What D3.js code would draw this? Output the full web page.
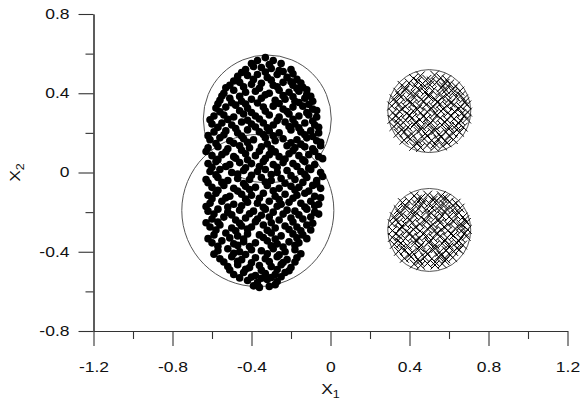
<!DOCTYPE html>
<html>
<head>
<meta charset="utf-8">
<script src="https://cdn.jsdelivr.net/npm/d3@7"></script>
<style>
  body { margin: 0; background: #fff; }
  text {
    font-family: "Liberation Sans", Arial, sans-serif;
    transform-box: fill-box;
    transform: scaleX(1.25);
    transform-origin: center;
  }
  .y-axis text { transform-origin: right center; }
</style>
</head>
<body>
<div id="chart"></div>
<script>
const width = 584;
const height = 406;

const xMajorTicks = [-1.2, -0.8, -0.4, 0, 0.4, 0.8, 1.2];
const xMinorTicks = [-1.0, -0.6, -0.2, 0.2, 0.6, 1.0];
const yMajorTicks = [-0.8, -0.4, 0, 0.4, 0.8];
const yMinorTicks = [-0.6, -0.2, 0.2, 0.6];

// boundary circles: [cx, cy, r]
const dotCircles = [[-0.32, 0.27, 0.324], [-0.368, -0.192, 0.385]];
const crossCircles = [[0.50, 0.31, 0.21], [0.50, -0.29, 0.21]];

// class 1 samples (filled dots)
const dotPoints = [
  [-0.37,0.565],[-0.33,0.58],[-0.29,0.565],[-0.25,0.55],
  [-0.43,0.52],[-0.39,0.535],[-0.35,0.53],[-0.30,0.525],[-0.24,0.51],[-0.20,0.52],
  [-0.47,0.485],[-0.42,0.49],[-0.37,0.495],[-0.32,0.48],[-0.27,0.495],[-0.22,0.48],[-0.17,0.47],
  [-0.51,0.44],[-0.46,0.455],[-0.40,0.445],[-0.35,0.45],[-0.29,0.44],[-0.24,0.455],[-0.19,0.44],[-0.14,0.43],
  [-0.54,0.40],[-0.49,0.415],[-0.43,0.405],[-0.38,0.41],[-0.31,0.40],[-0.26,0.415],[-0.21,0.405],[-0.16,0.41],[-0.12,0.395],
  [-0.56,0.365],[-0.51,0.375],[-0.45,0.36],[-0.40,0.37],[-0.35,0.375],[-0.28,0.365],[-0.23,0.37],[-0.18,0.36],[-0.13,0.375],[-0.09,0.36],
  [-0.58,0.325],[-0.53,0.33],[-0.48,0.34],[-0.42,0.325],[-0.34,0.33],[-0.29,0.335],[-0.24,0.32],[-0.19,0.33],[-0.14,0.335],[-0.09,0.32],
  [-0.59,0.285],[-0.54,0.29],[-0.49,0.28],[-0.44,0.295],[-0.38,0.285],[-0.31,0.29],[-0.26,0.28],[-0.21,0.295],[-0.16,0.285],[-0.11,0.29],[-0.07,0.28],
  [-0.60,0.245],[-0.55,0.25],[-0.50,0.24],[-0.45,0.255],[-0.40,0.245],[-0.34,0.25],[-0.29,0.24],[-0.23,0.255],[-0.18,0.245],[-0.13,0.25],[-0.08,0.24],
  [-0.59,0.205],[-0.53,0.21],[-0.47,0.20],[-0.42,0.215],[-0.36,0.205],[-0.31,0.21],[-0.26,0.20],[-0.20,0.215],[-0.15,0.205],[-0.10,0.21],[-0.06,0.20],
  [-0.61,0.165],[-0.56,0.175],[-0.51,0.16],[-0.44,0.17],[-0.39,0.165],[-0.33,0.175],[-0.28,0.16],[-0.24,0.17],[-0.17,0.165],[-0.12,0.175],[-0.07,0.16],
  [-0.62,0.125],[-0.57,0.13],[-0.52,0.12],[-0.46,0.135],[-0.41,0.125],[-0.35,0.13],[-0.30,0.12],[-0.22,0.135],[-0.18,0.125],[-0.13,0.13],[-0.09,0.12],[-0.05,0.135],
  [-0.60,0.085],[-0.55,0.09],[-0.49,0.08],[-0.43,0.095],[-0.38,0.085],[-0.31,0.09],[-0.26,0.08],[-0.21,0.095],[-0.16,0.085],[-0.11,0.09],[-0.06,0.08],
  [-0.62,0.045],[-0.58,0.055],[-0.51,0.04],[-0.46,0.05],[-0.40,0.045],[-0.34,0.055],[-0.29,0.04],[-0.24,0.05],[-0.19,0.045],[-0.13,0.055],[-0.08,0.04],
  [-0.61,0.005],[-0.56,0.015],[-0.50,0.0],[-0.44,0.01],[-0.37,0.005],[-0.33,0.015],[-0.27,0.0],[-0.22,0.01],[-0.15,0.005],[-0.10,0.015],[-0.05,0.0],
  [-0.63,-0.035],[-0.57,-0.025],[-0.52,-0.04],[-0.47,-0.03],[-0.41,-0.035],[-0.35,-0.025],[-0.30,-0.04],[-0.25,-0.03],[-0.18,-0.035],[-0.12,-0.025],[-0.07,-0.04],
  [-0.60,-0.075],[-0.54,-0.065],[-0.49,-0.08],[-0.43,-0.07],[-0.38,-0.075],[-0.32,-0.065],[-0.26,-0.08],[-0.20,-0.07],[-0.16,-0.075],[-0.09,-0.065],[-0.05,-0.08],
  [-0.62,-0.115],[-0.58,-0.105],[-0.51,-0.12],[-0.45,-0.11],[-0.40,-0.115],[-0.34,-0.105],[-0.28,-0.12],[-0.23,-0.11],[-0.17,-0.115],[-0.13,-0.105],[-0.08,-0.12],
  [-0.61,-0.155],[-0.55,-0.145],[-0.49,-0.16],[-0.42,-0.15],[-0.37,-0.155],[-0.31,-0.145],[-0.25,-0.16],[-0.21,-0.15],[-0.15,-0.155],[-0.10,-0.145],[-0.06,-0.16],
  [-0.62,-0.195],[-0.57,-0.185],[-0.52,-0.20],[-0.46,-0.19],[-0.39,-0.195],[-0.33,-0.185],[-0.29,-0.20],[-0.22,-0.19],[-0.18,-0.195],[-0.12,-0.185],[-0.08,-0.20],
  [-0.60,-0.235],[-0.54,-0.225],[-0.48,-0.24],[-0.43,-0.23],[-0.37,-0.235],[-0.31,-0.225],[-0.26,-0.24],[-0.20,-0.23],[-0.14,-0.235],[-0.10,-0.225],
  [-0.61,-0.275],[-0.56,-0.265],[-0.50,-0.28],[-0.45,-0.27],[-0.40,-0.275],[-0.34,-0.265],[-0.28,-0.28],[-0.23,-0.27],[-0.17,-0.275],[-0.12,-0.265],
  [-0.59,-0.315],[-0.53,-0.305],[-0.47,-0.32],[-0.42,-0.31],[-0.36,-0.315],[-0.30,-0.305],[-0.25,-0.32],[-0.19,-0.31],[-0.14,-0.315],
  [-0.60,-0.355],[-0.55,-0.345],[-0.49,-0.36],[-0.44,-0.35],[-0.38,-0.355],[-0.32,-0.345],[-0.27,-0.36],[-0.21,-0.35],[-0.16,-0.355],
  [-0.57,-0.395],[-0.52,-0.385],[-0.46,-0.40],[-0.40,-0.39],[-0.35,-0.395],[-0.29,-0.385],[-0.23,-0.40],[-0.18,-0.39],
  [-0.56,-0.435],[-0.50,-0.425],[-0.45,-0.44],[-0.38,-0.43],[-0.33,-0.435],[-0.27,-0.425],[-0.22,-0.44],[-0.17,-0.43],
  [-0.52,-0.475],[-0.47,-0.465],[-0.41,-0.48],[-0.36,-0.47],[-0.30,-0.475],[-0.25,-0.465],[-0.20,-0.48],
  [-0.49,-0.515],[-0.44,-0.505],[-0.38,-0.52],[-0.33,-0.51],[-0.28,-0.515],[-0.23,-0.505],
  [-0.42,-0.545],[-0.37,-0.555],[-0.32,-0.54],[-0.27,-0.55],
  [-0.36,-0.58],[-0.31,-0.575]
];

// more class 1 samples lying between the ones above
const dotPointsExtra = [
  [-0.31,0.545],[-0.40,0.55],
  [-0.45,0.505],[-0.33,0.507],[-0.26,0.515],[-0.19,0.498],
  [-0.49,0.462],[-0.39,0.47],[-0.30,0.466],[-0.20,0.458],[-0.15,0.452],
  [-0.53,0.428],[-0.44,0.432],[-0.36,0.425],[-0.27,0.433],[-0.17,0.424],[-0.12,0.418],
  [-0.55,0.386],[-0.46,0.384],[-0.33,0.392],[-0.24,0.388],[-0.19,0.382],[-0.10,0.384],
  [-0.57,0.347],[-0.50,0.352],[-0.43,0.346],[-0.37,0.351],[-0.26,0.348],[-0.16,0.353],[-0.11,0.344],
  [-0.56,0.306],[-0.46,0.312],[-0.40,0.303],[-0.33,0.31],[-0.22,0.308],[-0.12,0.302],[-0.07,0.313],
  [-0.61,0.266],[-0.52,0.268],[-0.42,0.264],[-0.36,0.27],[-0.27,0.262],[-0.19,0.268],[-0.09,0.26],
  [-0.57,0.228],[-0.48,0.222],[-0.38,0.23],[-0.32,0.226],[-0.21,0.232],[-0.16,0.225],[-0.06,0.228],
  [-0.62,0.186],[-0.54,0.19],[-0.45,0.184],[-0.34,0.192],[-0.29,0.185],[-0.13,0.19],[-0.09,0.182],
  [-0.58,0.146],[-0.49,0.148],[-0.42,0.152],[-0.32,0.144],[-0.20,0.15],[-0.15,0.143],[-0.05,0.152],
  [-0.63,0.106],[-0.53,0.104],[-0.45,0.112],[-0.36,0.108],[-0.28,0.104],[-0.19,0.11],[-0.08,0.106],
  [-0.57,0.066],[-0.48,0.072],[-0.42,0.064],[-0.33,0.07],[-0.23,0.068],[-0.14,0.064],[-0.04,0.07],
  [-0.60,0.026],[-0.53,0.03],[-0.43,0.024],[-0.36,0.03],[-0.27,0.026],[-0.17,0.03],[-0.11,0.022],
  [-0.58,-0.012],[-0.47,-0.008],[-0.40,-0.014],[-0.30,-0.01],[-0.20,-0.016],[-0.13,-0.01],[-0.04,-0.02],
  [-0.62,-0.052],[-0.55,-0.05],[-0.44,-0.056],[-0.33,-0.048],[-0.23,-0.054],[-0.14,-0.05],[-0.07,-0.058],
  [-0.57,-0.09],[-0.47,-0.094],[-0.41,-0.086],[-0.29,-0.092],[-0.18,-0.088],[-0.11,-0.094],
  [-0.60,-0.132],[-0.53,-0.128],[-0.43,-0.134],[-0.36,-0.13],[-0.26,-0.136],[-0.19,-0.13],[-0.05,-0.128],
  [-0.63,-0.172],[-0.52,-0.174],[-0.45,-0.168],[-0.34,-0.176],[-0.27,-0.17],[-0.13,-0.174],[-0.08,-0.168],
  [-0.59,-0.21],[-0.50,-0.214],[-0.41,-0.208],[-0.35,-0.216],[-0.24,-0.21],[-0.16,-0.214],[-0.06,-0.21],
  [-0.63,-0.254],[-0.57,-0.25],[-0.46,-0.256],[-0.38,-0.248],[-0.30,-0.254],[-0.19,-0.25],[-0.09,-0.256],
  [-0.58,-0.29],[-0.48,-0.294],[-0.42,-0.286],[-0.32,-0.292],[-0.21,-0.288],[-0.15,-0.294],[-0.10,-0.29],
  [-0.62,-0.334],[-0.51,-0.33],[-0.44,-0.336],[-0.34,-0.328],[-0.28,-0.336],[-0.17,-0.33],[-0.12,-0.334],
  [-0.57,-0.372],[-0.47,-0.368],[-0.41,-0.374],[-0.30,-0.37],[-0.24,-0.376],[-0.18,-0.368],
  [-0.59,-0.412],[-0.49,-0.408],[-0.43,-0.414],[-0.32,-0.41],[-0.26,-0.416],[-0.15,-0.41],
  [-0.54,-0.452],[-0.47,-0.448],[-0.40,-0.456],[-0.31,-0.45],[-0.24,-0.454],[-0.18,-0.452],
  [-0.51,-0.492],[-0.43,-0.488],[-0.35,-0.494],[-0.27,-0.49],[-0.21,-0.496],
  [-0.46,-0.532],[-0.40,-0.528],[-0.35,-0.534],[-0.30,-0.53],[-0.25,-0.526],
  [-0.39,-0.572],[-0.28,-0.566]
];

// class 2 samples (crosses), upper cluster
const crossPointsUpper = [
  [0.42,0.475],[0.455,0.488],[0.488,0.47],[0.527,0.492],[0.558,0.478],[0.588,0.468],
  [0.362,0.44],[0.398,0.452],[0.43,0.438],[0.466,0.449],[0.503,0.442],[0.538,0.455],[0.571,0.437],[0.604,0.447],[0.633,0.436],
  [0.341,0.405],[0.377,0.415],[0.409,0.402],[0.447,0.418],[0.479,0.406],[0.516,0.413],[0.552,0.401],[0.584,0.416],[0.622,0.404],[0.655,0.411],
  [0.322,0.372],[0.356,0.381],[0.391,0.368],[0.424,0.378],[0.461,0.37],[0.497,0.383],[0.531,0.369],[0.566,0.377],[0.598,0.366],[0.636,0.38],[0.673,0.371],
  [0.31,0.336],[0.347,0.344],[0.379,0.333],[0.416,0.347],[0.451,0.335],[0.484,0.342],[0.521,0.331],[0.556,0.346],[0.589,0.337],[0.626,0.343],[0.659,0.332],[0.69,0.341],
  [0.316,0.302],[0.349,0.309],[0.386,0.298],[0.419,0.311],[0.456,0.301],[0.489,0.307],[0.526,0.296],[0.559,0.31],[0.596,0.302],[0.628,0.308],[0.664,0.297],[0.694,0.305],
  [0.311,0.268],[0.346,0.274],[0.381,0.263],[0.414,0.276],[0.452,0.266],[0.486,0.272],[0.519,0.262],[0.556,0.275],[0.589,0.267],[0.626,0.271],[0.658,0.262],[0.689,0.27],
  [0.321,0.232],[0.354,0.239],[0.392,0.229],[0.424,0.241],[0.461,0.231],[0.494,0.238],[0.531,0.227],[0.564,0.24],[0.601,0.232],[0.634,0.236],[0.672,0.229],
  [0.342,0.198],[0.374,0.205],[0.411,0.194],[0.444,0.207],[0.481,0.197],[0.514,0.203],[0.551,0.193],[0.584,0.206],[0.621,0.198],[0.654,0.203],
  [0.372,0.163],[0.404,0.17],[0.441,0.16],[0.474,0.171],[0.511,0.162],[0.544,0.168],[0.581,0.159],[0.622,0.166],
  [0.421,0.132],[0.456,0.126],[0.489,0.136],[0.526,0.128],[0.568,0.134],
  [0.44,0.46],[0.51,0.462],[0.58,0.45],[0.38,0.425],[0.47,0.43],[0.56,0.428],[0.62,0.42],
  [0.35,0.39],[0.43,0.395],[0.50,0.39],[0.59,0.392],[0.66,0.388],
  [0.33,0.355],[0.40,0.352],[0.47,0.36],[0.54,0.356],[0.61,0.35],[0.68,0.356],
  [0.36,0.32],[0.44,0.318],[0.51,0.325],[0.57,0.32],[0.65,0.322],
  [0.33,0.285],[0.40,0.288],[0.47,0.282],[0.54,0.29],[0.61,0.284],[0.68,0.288],
  [0.34,0.25],[0.43,0.252],[0.50,0.246],[0.58,0.254],[0.65,0.248],
  [0.36,0.215],[0.46,0.218],[0.53,0.212],[0.60,0.22],[0.64,0.214],
  [0.39,0.18],[0.49,0.184],[0.56,0.178],[0.60,0.186],
  [0.44,0.148],[0.53,0.145],[0.59,0.15]
];

// class 2 samples (crosses), lower cluster
const crossPointsLower = [
  [0.424,-0.118],[0.459,-0.128],[0.492,-0.114],[0.523,-0.126],[0.561,-0.117],[0.586,-0.13],
  [0.364,-0.152],[0.397,-0.145],[0.434,-0.158],[0.468,-0.148],[0.501,-0.156],[0.536,-0.144],[0.573,-0.159],[0.602,-0.149],[0.636,-0.155],
  [0.343,-0.188],[0.378,-0.181],[0.412,-0.193],[0.445,-0.183],[0.482,-0.19],[0.514,-0.179],[0.55,-0.192],[0.587,-0.184],[0.619,-0.189],[0.656,-0.18],
  [0.323,-0.223],[0.359,-0.216],[0.389,-0.228],[0.426,-0.218],[0.459,-0.226],[0.496,-0.214],[0.533,-0.227],[0.564,-0.219],[0.601,-0.224],[0.634,-0.213],[0.671,-0.225],
  [0.312,-0.258],[0.344,-0.251],[0.381,-0.263],[0.414,-0.253],[0.452,-0.26],[0.486,-0.249],[0.519,-0.262],[0.554,-0.254],[0.591,-0.259],[0.624,-0.248],[0.661,-0.261],[0.688,-0.252],
  [0.314,-0.293],[0.351,-0.286],[0.384,-0.298],[0.421,-0.288],[0.454,-0.295],[0.491,-0.284],[0.524,-0.297],[0.561,-0.289],[0.594,-0.294],[0.631,-0.283],[0.662,-0.296],[0.693,-0.287],
  [0.313,-0.328],[0.348,-0.321],[0.379,-0.333],[0.417,-0.323],[0.449,-0.33],[0.487,-0.319],[0.521,-0.332],[0.553,-0.324],[0.591,-0.329],[0.623,-0.318],[0.66,-0.331],[0.687,-0.322],
  [0.323,-0.363],[0.357,-0.356],[0.389,-0.368],[0.427,-0.358],[0.459,-0.365],[0.497,-0.354],[0.529,-0.367],[0.566,-0.359],[0.599,-0.364],[0.637,-0.353],[0.669,-0.366],
  [0.344,-0.398],[0.377,-0.391],[0.414,-0.403],[0.447,-0.393],[0.484,-0.4],[0.516,-0.389],[0.553,-0.402],[0.586,-0.394],[0.624,-0.399],[0.652,-0.39],
  [0.374,-0.433],[0.407,-0.426],[0.444,-0.437],[0.477,-0.428],[0.513,-0.435],[0.547,-0.425],[0.584,-0.436],[0.619,-0.429],
  [0.424,-0.462],[0.457,-0.469],[0.491,-0.459],[0.529,-0.467],[0.566,-0.461],
  [0.44,-0.135],[0.52,-0.14],[0.57,-0.132],[0.38,-0.168],[0.46,-0.165],[0.55,-0.172],[0.62,-0.166],
  [0.35,-0.205],[0.43,-0.2],[0.51,-0.206],[0.58,-0.198],[0.65,-0.204],
  [0.33,-0.24],[0.40,-0.236],[0.48,-0.242],[0.55,-0.238],[0.62,-0.244],[0.68,-0.238],
  [0.36,-0.272],[0.43,-0.276],[0.51,-0.27],[0.58,-0.278],[0.66,-0.272],
  [0.33,-0.31],[0.40,-0.306],[0.47,-0.312],[0.54,-0.304],[0.61,-0.31],[0.68,-0.306],
  [0.34,-0.345],[0.43,-0.342],[0.50,-0.348],[0.58,-0.34],[0.65,-0.346],
  [0.36,-0.382],[0.45,-0.378],[0.53,-0.384],[0.60,-0.376],[0.64,-0.382],
  [0.40,-0.416],[0.49,-0.412],[0.56,-0.418],[0.60,-0.41],
  [0.45,-0.448],[0.53,-0.452],[0.58,-0.446]
];

const svg = d3.select('#chart')
  .append('svg')
  .attr('width', width)
  .attr('height', height);

const x = d3.scaleLinear().domain([-1.2, 1.2]).range([93.5, 567.5]);
const y = d3.scaleLinear().domain([-0.8, 0.8]).range([331, 14]);
const unit = x(1) - x(0);

// boundary circles
svg.append('g')
  .selectAll('circle')
  .data(dotCircles.concat(crossCircles))
  .join('circle')
  .attr('cx', d => x(d[0]))
  .attr('cy', d => y(d[1]))
  .attr('r', d => d[2] * unit)
  .attr('fill', 'none')
  .attr('stroke', '#555')
  .attr('stroke-width', 1);

// filled dots
svg.append('g')
  .selectAll('circle')
  .data(dotPoints.concat(dotPointsExtra))
  .join('circle')
  .attr('cx', d => x(d[0]))
  .attr('cy', d => y(d[1]))
  .attr('r', 3.8)
  .attr('fill', '#000');

// crosses
const s = 4.4;
svg.append('g')
  .selectAll('path')
  .data(crossPointsUpper.concat(crossPointsLower))
  .join('path')
  .attr('transform', d => `translate(${x(d[0])},${y(d[1])})`)
  .attr('d', `M${-s},${-s}L${s},${s}M${-s},${s}L${s},${-s}`)
  .attr('stroke', '#000')
  .attr('stroke-width', 1)
  .attr('fill', 'none');

const fmt = d => String(d);

function styleAxis(g) {
  g.selectAll('path, line').attr('stroke', '#333').attr('stroke-width', 1.1);
  g.attr('font-family', null).attr('font-size', null);
  g.selectAll('text')
    .attr('fill', '#111')
    .style('font-size', '14px');
}

// x axis
svg.append('g')
  .attr('transform', `translate(0,${y(-0.8)})`)
  .call(d3.axisBottom(x).tickValues(xMinorTicks).tickSize(8).tickSizeOuter(0).tickFormat(''))
  .call(styleAxis);
svg.append('g')
  .attr('transform', `translate(0,${y(-0.8)})`)
  .call(d3.axisBottom(x).tickValues(xMajorTicks).tickSize(15).tickSizeOuter(0).tickPadding(16).tickFormat(fmt))
  .call(styleAxis);

// y axis
svg.append('g')
  .attr('transform', `translate(${x(-1.2)},0)`)
  .call(d3.axisLeft(y).tickValues(yMinorTicks).tickSize(8).tickSizeOuter(0).tickFormat(''))
  .call(styleAxis);
svg.append('g')
  .attr('class', 'y-axis')
  .attr('transform', `translate(${x(-1.2)},0)`)
  .call(d3.axisLeft(y).tickValues(yMajorTicks).tickSize(15).tickSizeOuter(0).tickPadding(9).tickFormat(fmt))
  .call(styleAxis);

// axis titles
const xTitle = svg.append('text')
  .attr('x', x(0))
  .attr('y', 394)
  .attr('text-anchor', 'middle')
  .style('font-size', '14px')
  .attr('fill', '#111');
xTitle.append('tspan').text('X');
xTitle.append('tspan').attr('dy', 4).style('font-size', '10px').text('1');

svg.append('g')
  .attr('transform', `translate(20,${y(0)}) rotate(-90)`)
  .append('text')
  .attr('text-anchor', 'middle')
  .style('font-size', '14px')
  .attr('fill', '#111')
  .call(t => {
    t.append('tspan').text('X');
    t.append('tspan').attr('dy', 4).style('font-size', '10px').text('2');
  });
</script>
</body>
</html>
